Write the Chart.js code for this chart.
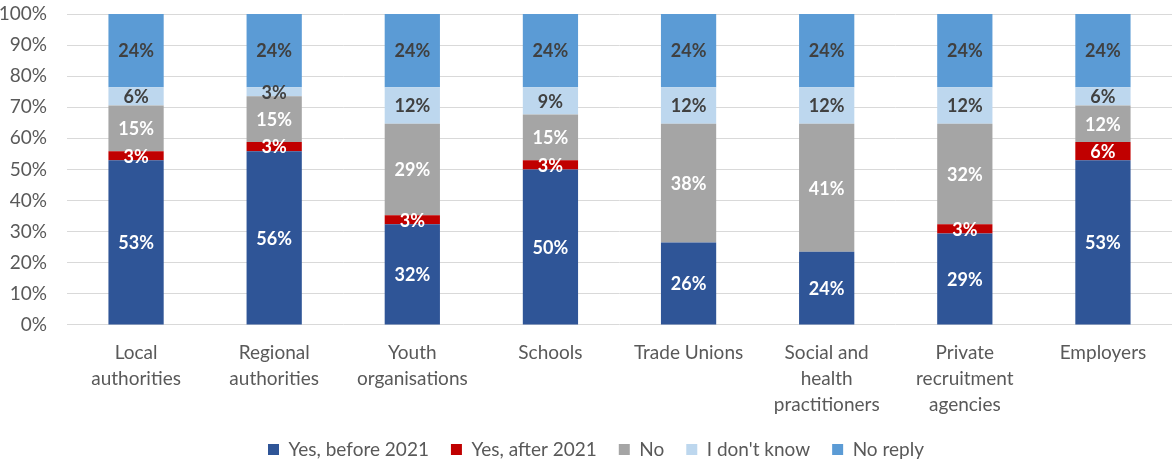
<!DOCTYPE html>
<html>
<head>
<meta charset="utf-8">
<script src="https://cdn.jsdelivr.net/npm/chart.js@4.4.1/dist/chart.umd.min.js"></script>
<style>
  html, body { margin: 0; padding: 0; background: #ffffff; }
  #wrap { width: 1172px; height: 459px; position: relative; }
</style>
</head>
<body>
<div id="wrap"><canvas id="chart" width="1172" height="459"></canvas></div>
<script>
// Respondent groups (multi-line axis labels)
const categories = [
  ["Local", "authorities"],
  ["Regional", "authorities"],
  ["Youth", "organisations"],
  ["Schools"],
  ["Trade Unions"],
  ["Social and", "health", "practitioners"],
  ["Private", "recruitment", "agencies"],
  ["Employers"]
];

// Number of answers per group, out of the total responses
const totalResponses = 34;
const yesBefore2021 = [18, 19, 11, 17, 9, 8, 10, 18];
const yesAfter2021  = [1, 1, 1, 1, 0, 0, 1, 2];
const answerNo      = [5, 5, 10, 5, 13, 14, 11, 4];
const dontKnow      = [2, 1, 4, 3, 4, 4, 4, 2];
const noReply       = [8, 8, 8, 8, 8, 8, 8, 8];

const yTicks = [0, 10, 20, 30, 40, 50, 60, 70, 80, 90, 100];

const toPct = arr => arr.map(v => v / totalResponses * 100);

const FONT = "Lato, 'Open Sans', sans-serif";

const series = [
  { label: "Yes, before 2021", data: toPct(yesBefore2021), color: "#2F5597", text: "#FFFFFF" },
  { label: "Yes, after 2021",  data: toPct(yesAfter2021),  color: "#C00000", text: "#FFFFFF" },
  { label: "No",               data: toPct(answerNo),      color: "#A5A5A5", text: "#FFFFFF" },
  { label: "I don't know",     data: toPct(dontKnow),      color: "#BDD7EE", text: "#404040" },
  { label: "No reply",         data: toPct(noReply),       color: "#5B9BD5", text: "#404040" }
];

// Percentage labels centred on each segment
const segmentLabels = {
  id: "segmentLabels",
  afterDatasetsDraw(chart) {
    const ctx = chart.ctx;
    ctx.save();
    ctx.font = "bold 18px " + FONT;
    ctx.textAlign = "center";
    ctx.textBaseline = "middle";
    chart.data.datasets.forEach((ds, di) => {
      const meta = chart.getDatasetMeta(di);
      meta.data.forEach((bar, i) => {
        const v = ds.data[i];
        if (!v) return;
        ctx.fillStyle = ds.labelColor;
        const y = (bar.y + bar.base) / 2 + 1;
        ctx.fillText(Math.round(v) + "%", bar.x, y);
      });
    });
    ctx.restore();
  }
};

// Nudge the legend row right and let the category labels run into the legend band
const layoutTweaks = {
  id: "layoutTweaks",
  afterLayout(chart) {
    const lg = chart.legend;
    if (lg) { lg.left += 10; lg.right += 10; }
    if (chart.scales.x) { chart.scales.x.bottom = chart.height; }
  }
};

new Chart(document.getElementById("chart"), {
  type: "bar",
  data: {
    labels: categories,
    datasets: series.map(s => ({
      label: s.label,
      data: s.data,
      backgroundColor: s.color,
      labelColor: s.text,
      borderWidth: 0,
      barPercentage: 0.4,
      categoryPercentage: 1.0
    }))
  },
  options: {
    responsive: false,
    animation: false,
    devicePixelRatio: 1,
    layout: { padding: { top: 14, right: 0, left: 0, bottom: -10 } },
    plugins: {
      legend: {
        position: "bottom",
        labels: {
          boxWidth: 11,
          boxHeight: 11,
          padding: 22,
          color: "#595959",
          font: { family: FONT, size: 19 }
        }
      },
      tooltip: { enabled: false }
    },
    scales: {
      x: {
        stacked: true,
        afterFit(scale) { scale.height -= 7; },
        grid: { display: false },
        border: { display: false },
        ticks: {
          color: "#595959",
          padding: 7,
          maxRotation: 0,
          autoSkip: false,
          font: { family: FONT, size: 19, lineHeight: 1.37 }
        }
      },
      y: {
        stacked: true,
        min: 0,
        max: 100,
        afterBuildTicks(scale) { scale.ticks = yTicks.map(v => ({ value: v })); },
        afterFit(scale) {
          scale.width = 67;
          scale.paddingTop = 0;
          scale.paddingBottom = 0;
        },
        grid: { color: "#D9D9D9", lineWidth: 1, drawTicks: false },
        border: { display: false },
        ticks: {
          color: "#595959",
          padding: 20,
          font: { family: FONT, size: 19 },
          callback: v => v + "%"
        }
      }
    }
  },
  plugins: [segmentLabels, layoutTweaks]
});
</script>
</body>
</html>
